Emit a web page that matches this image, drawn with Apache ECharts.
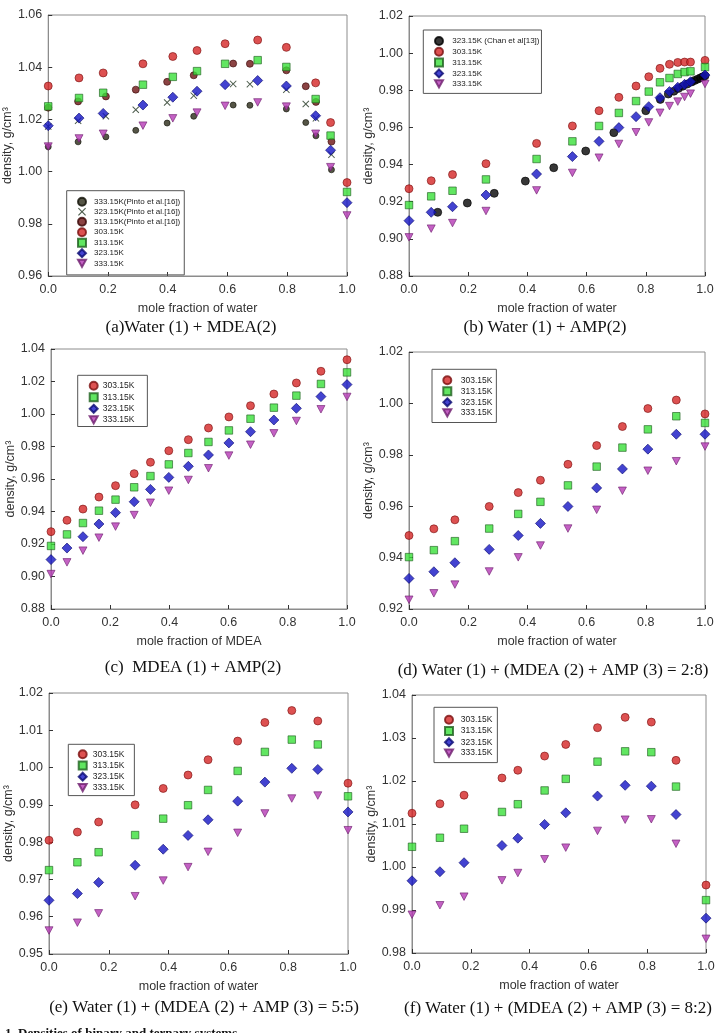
<!DOCTYPE html>
<html>
<head>
<meta charset="utf-8">
<script src="https://cdn.jsdelivr.net/npm/echarts@6/dist/echarts.min.js"></script>
<style>
html, body { margin: 0; padding: 0; background: #fff; }
#chart { width: 718px; height: 1033px; }
</style>
</head>
<body>
<div id="chart"></div>
<script>
// (a) water + MDEA
var xA = [0, 0.103, 0.184, 0.317, 0.417, 0.498, 0.592, 0.701, 0.797, 0.895, 0.945, 1.0];
var a303 = [1.0328, 1.0359, 1.0378, 1.0413, 1.0441, 1.0464, 1.0490, 1.0504, 1.0476, 1.0340, 1.0188, 0.9958];
var a313 = [1.0250, 1.0282, 1.0302, 1.0333, 1.0363, 1.0385, 1.0413, 1.0427, 1.0401, 1.0278, 1.0138, 0.9922];
var a323 = [1.0176, 1.0205, 1.0223, 1.0255, 1.0285, 1.0308, 1.0333, 1.0349, 1.0328, 1.0214, 1.0082, 0.9881];
var a333 = [1.0096, 1.0127, 1.0145, 1.0176, 1.0204, 1.0226, 1.0252, 1.0265, 1.0249, 1.0145, 1.0017, 0.9832];
var xPinto = [0, 0.100, 0.193, 0.293, 0.398, 0.487, 0.619, 0.675, 0.797, 0.862, 0.896, 0.948];
var pinto313 = [1.0245, 1.0269, 1.0288, 1.0314, 1.0344, 1.0369, 1.0414, 1.0413, 1.0388, 1.0327, 1.0267, 1.0115];
var pinto323 = [1.0173, 1.0195, 1.0212, 1.0237, 1.0265, 1.0291, 1.0336, 1.0335, 1.0314, 1.0259, 1.0204, 1.0065];
var pinto333 = [1.0095, 1.0114, 1.0133, 1.0158, 1.0186, 1.0212, 1.0255, 1.0254, 1.0240, 1.0188, 1.0137, 1.0007];

// (b) water + AMP
var xB = [0, 0.075, 0.147, 0.26, 0.431, 0.552, 0.642, 0.709, 0.767, 0.81, 0.848, 0.880, 0.908, 0.931, 0.951, 1.0];
var b303 = [0.9270, 0.9313, 0.9346, 0.9405, 0.9514, 0.9608, 0.9690, 0.9762, 0.9823, 0.9873, 0.9918, 0.9940, 0.9950, 0.9952, 0.9952, 0.9961];
var b313 = [0.9182, 0.9229, 0.9259, 0.9320, 0.9430, 0.9525, 0.9608, 0.9678, 0.9742, 0.9793, 0.9843, 0.9866, 0.9888, 0.9898, 0.9902, 0.9925];
var b323 = [0.9098, 0.9143, 0.9173, 0.9236, 0.9349, 0.9443, 0.9525, 0.9599, 0.9658, 0.9712, 0.9760, 0.9793, 0.9816, 0.9832, 0.9846, 0.9882];
var b333 = [0.9008, 0.9055, 0.9085, 0.9150, 0.9261, 0.9355, 0.9437, 0.9511, 0.9574, 0.9627, 0.9679, 0.9715, 0.9739, 0.9764, 0.9782, 0.9834];
var xChan = [0.097, 0.197, 0.288, 0.393, 0.489, 0.597, 0.692, 0.80, 0.849, 0.876, 0.895, 0.91, 0.925, 0.94, 0.955, 0.965, 0.975, 0.985, 0.993, 1.0];
var chan323 = [0.9143, 0.9193, 0.9245, 0.9311, 0.9383, 0.9473, 0.9572, 0.9690, 0.9751, 0.9780, 0.9795, 0.9810, 0.9822, 0.9834, 0.9845, 0.9853, 0.9860, 0.9867, 0.9873, 0.9878];

// (c) MDEA + AMP
var xC = [0, 0.054, 0.108, 0.162, 0.218, 0.281, 0.336, 0.398, 0.464, 0.532, 0.601, 0.674, 0.753, 0.829, 0.912, 1.0];
var c303 = [0.9276, 0.9346, 0.9415, 0.9489, 0.9559, 0.9633, 0.9703, 0.9774, 0.9842, 0.9914, 0.9982, 1.0051, 1.0123, 1.0191, 1.0263, 1.0334];
var c313 = [0.9188, 0.9259, 0.9329, 0.9405, 0.9473, 0.9549, 0.9618, 0.9690, 0.9760, 0.9828, 0.9899, 0.9971, 1.0039, 1.0113, 1.0185, 1.0256];
var c323 = [0.9104, 0.9175, 0.9245, 0.9323, 0.9393, 0.9460, 0.9536, 0.9610, 0.9678, 0.9748, 0.9822, 0.9891, 0.9963, 1.0035, 1.0107, 1.0181];
var c333 = [0.9015, 0.9087, 0.9159, 0.9239, 0.9307, 0.9378, 0.9454, 0.9528, 0.9594, 0.9666, 0.9744, 0.9811, 0.9881, 0.9957, 1.0029, 1.0105];

// (d) water + (MDEA + AMP = 2:8)
var xD = [0, 0.084, 0.155, 0.271, 0.369, 0.444, 0.537, 0.634, 0.721, 0.807, 0.903, 1.0];
var d303 = [0.9486, 0.9512, 0.9547, 0.9599, 0.9653, 0.9701, 0.9763, 0.9836, 0.9910, 0.9980, 1.0013, 0.9959];
var d313 = [0.9402, 0.9429, 0.9464, 0.9513, 0.9570, 0.9617, 0.9681, 0.9754, 0.9828, 0.9899, 0.9950, 0.9924];
var d323 = [0.9319, 0.9345, 0.9380, 0.9432, 0.9486, 0.9533, 0.9599, 0.9671, 0.9745, 0.9822, 0.9880, 0.9880];
var d333 = [0.9236, 0.9261, 0.9295, 0.9346, 0.9401, 0.9447, 0.9513, 0.9586, 0.9660, 0.9738, 0.9775, 0.9832];

// (e) water + (MDEA + AMP = 5:5)
var xE = [0, 0.095, 0.166, 0.288, 0.382, 0.465, 0.532, 0.631, 0.722, 0.812, 0.899, 1.0];
var e303 = [0.9805, 0.9827, 0.9854, 0.9900, 0.9944, 0.9980, 1.0021, 1.0071, 1.0121, 1.0153, 1.0125, 0.9958];
var e313 = [0.9725, 0.9746, 0.9773, 0.9819, 0.9863, 0.9899, 0.9940, 0.9991, 1.0042, 1.0075, 1.0062, 0.9923];
var e323 = [0.9644, 0.9662, 0.9692, 0.9738, 0.9781, 0.9818, 0.9860, 0.9910, 0.9961, 0.9998, 0.9995, 0.9881];
var e333 = [0.9563, 0.9584, 0.9609, 0.9655, 0.9697, 0.9733, 0.9774, 0.9825, 0.9877, 0.9917, 0.9925, 0.9832];

// (f) water + (MDEA + AMP = 8:2)
var xF = [0, 0.095, 0.177, 0.306, 0.36, 0.451, 0.523, 0.631, 0.725, 0.814, 0.898, 1.0];
var f303 = [1.0125, 1.0147, 1.0167, 1.0207, 1.0225, 1.0258, 1.0285, 1.0324, 1.0348, 1.0337, 1.0248, 0.9958];
var f313 = [1.0047, 1.0068, 1.0089, 1.0128, 1.0146, 1.0178, 1.0205, 1.0245, 1.0269, 1.0267, 1.0187, 0.9923];
var f323 = [0.9968, 0.9989, 1.0010, 1.0050, 1.0067, 1.0099, 1.0126, 1.0165, 1.0190, 1.0188, 1.0122, 0.9881];
var f333 = [0.9889, 0.9911, 0.9931, 0.9969, 0.9986, 1.0018, 1.0045, 1.0084, 1.0110, 1.0111, 1.0054, 0.9833];

// axes
var yMin = [0.96, 0.88, 0.88, 0.92, 0.95, 0.98];
var yMax = [1.06, 1.02, 1.04, 1.02, 1.02, 1.04];
var yStep = [0.02, 0.02, 0.02, 0.02, 0.01, 0.01];
var xNames = ["mole fraction of water", "mole fraction of water", "mole fraction of MDEA",
	"mole fraction of water", "mole fraction of water", "mole fraction of water"];
var captions = ["(a)Water (1) + MDEA(2)", "(b) Water (1) + AMP(2)", "(c)  MDEA (1) + AMP(2)",
	"(d) Water (1) + (MDEA (2) + AMP (3) = 2:8)", "(e) Water (1) + (MDEA (2) + AMP (3) = 5:5)",
	"(f) Water (1) + (MDEA (2) + AMP (3) = 8:2)"];
var tempNames = ["303.15K", "313.15K", "323.15K", "333.15K"];
var pintoNames = ["333.15K(Pinto et al.[16])", "323.15K(Pinto et al.[16])", "313.15K(Pinto et al.[16])"];
var chanName = "323.15K (Chan et al[13])";

var SANS = "'Liberation Sans', Arial, sans-serif";
var SERIF = "'Liberation Serif', 'Times New Roman', serif";
var DOWN_TRI = "path://M0,0L10,0L5,9Z";
var CROSS = "path://M0,1L1,0L5,4L9,0L10,1L6,5L10,9L9,10L5,6L1,10L0,9L4,5Z";

var grids = [
	{left: 46, top: 15, width: 301, height: 261},
	{left: 409, top: 16, width: 296, height: 260},
	{left: 51, top: 349, width: 296, height: 260},
	{left: 409, top: 352, width: 296, height: 257},
	{left: 49, top: 693, width: 299, height: 261},
	{left: 412, top: 695, width: 294, height: 258}
];
var yNameGap = [24, 32, 28.5, 28.5, 28, 30];
var capPos = [[191, 328], [545, 328], [193, 668], [553, 671], [204, 1008], [558, 1009]];

var styles = {
	"303.15K": {symbol: "circle", size: 8, color: "#d42626", border: "#7a1212"},
	"313.15K": {symbol: "rect", size: 7.5, color: "#3ae03a", border: "#1f5f1f"},
	"323.15K": {symbol: "diamond", size: 10, color: "#1414c4", border: "#0a0a70"},
	"333.15K": {symbol: DOWN_TRI, size: [8, 7.5], color: "#b53ab5", border: "#6e1f6e"},
	pinto313: {symbol: "circle", size: 7, color: "#6e1414", border: "#3a0808"},
	pinto323: {symbol: CROSS, size: 7, color: "#1f331f", border: "#1f331f"},
	pinto333: {symbol: "circle", size: 6, color: "#2a2a18", border: "#111108"},
	chan: {symbol: "circle", size: 8, color: "#050505", border: "#000000"}
};

function zip(xs, ys) {
	return xs.map(function (x, i) { return [x, ys[i]]; });
}

function sc(name, idx, xs, ys, key) {
	var st = styles[key || name];
	return {
		type: "scatter",
		name: name,
		xAxisIndex: idx,
		yAxisIndex: idx,
		data: zip(xs, ys),
		symbol: st.symbol,
		symbolSize: st.size,
		clip: false,
		itemStyle: {color: st.color, borderColor: st.border, borderWidth: key === "pinto323" ? 0 : 0.8},
		emphasis: {disabled: true}
	};
}

var series = [
	sc(pintoNames[0], 0, xPinto, pinto333, "pinto333"),
	sc(pintoNames[1], 0, xPinto, pinto323, "pinto323"),
	sc(pintoNames[2], 0, xPinto, pinto313, "pinto313"),
	sc("303.15K", 0, xA, a303), sc("313.15K", 0, xA, a313),
	sc("323.15K", 0, xA, a323), sc("333.15K", 0, xA, a333),

	sc(chanName, 1, xChan, chan323, "chan"),
	sc("303.15K", 1, xB, b303), sc("313.15K", 1, xB, b313),
	sc("323.15K", 1, xB, b323), sc("333.15K", 1, xB, b333),

	sc("303.15K", 2, xC, c303), sc("313.15K", 2, xC, c313),
	sc("323.15K", 2, xC, c323), sc("333.15K", 2, xC, c333),

	sc("303.15K", 3, xD, d303), sc("313.15K", 3, xD, d313),
	sc("323.15K", 3, xD, d323), sc("333.15K", 3, xD, d333),

	sc("303.15K", 4, xE, e303), sc("313.15K", 4, xE, e313),
	sc("323.15K", 4, xE, e323), sc("333.15K", 4, xE, e333),

	sc("303.15K", 5, xF, f303), sc("313.15K", 5, xF, f313),
	sc("323.15K", 5, xF, f323), sc("333.15K", 5, xF, f333)
];

// square icons, text pushed right with its own padding
function legend(names, left, top, textShift, gap, pad, fontSize) {
	return {
		data: names.map(function (n) {
			var st = styles[n];
			return st ? {name: n, icon: st.symbol} : {name: n};
		}),
		orient: "vertical",
		left: left,
		top: top,
		itemWidth: 8,
		itemHeight: 8,
		itemGap: gap,
		padding: pad,
		selectedMode: false,
		borderColor: "#555",
		borderWidth: 1,
		textStyle: {fontFamily: SANS, fontSize: fontSize, color: "#222", lineHeight: 9,
			padding: [0, 0, 0, textShift]}
	};
}

var legends = [
	legend(pintoNames.concat(tempNames), 66.7, 190.7, 3, 0.5, [6, 4, 7, 10.3], 8),
	legend([chanName].concat(tempNames), 423.3, 30, 4.3, 0.8, [6, 2, 5, 10.7], 8),
	legend(tempNames, 77.7, 375.3, 0, 1.5, [5.5, 13, 2, 11], 8.5),
	legend(tempNames, 432, 369.3, 4.4, 1, [6, 4, 5, 10.3], 8.5),
	legend(tempNames, 68.3, 744.3, 1, 1.2, [5, 10, 3.5, 9.4], 8.5),
	legend(tempNames, 434, 707.3, 2.7, 1.2, [7.5, 5, 5, 10], 8.5)
];

var xAxes = grids.map(function (g, i) {
	return {
		gridIndex: i, type: "value", min: 0, max: 1, interval: 0.2,
		name: xNames[i], nameLocation: "middle", nameGap: 26,
		nameTextStyle: {fontFamily: SANS, fontSize: 12.5, color: "#333"},
		axisLine: {lineStyle: {color: "#8c8c8c"}},
		axisTick: {inside: true, length: 4, lineStyle: {color: "#333"}},
		axisLabel: {fontFamily: SANS, fontSize: 12.5, color: "#333", margin: 7,
			formatter: function (v) { return v.toFixed(1); }},
		splitLine: {show: false}
	};
});
var yAxes = grids.map(function (g, i) {
	return {
		gridIndex: i, type: "value", min: yMin[i], max: yMax[i], interval: yStep[i],
		name: "density, g/cm\u00b3", nameLocation: "middle", nameGap: yNameGap[i], nameRotate: 90,
		nameTextStyle: {fontFamily: SANS, fontSize: 12.5, color: "#333"},
		axisLine: {show: true, lineStyle: {color: "#8c8c8c"}},
		axisTick: {show: true, inside: true, length: 4, lineStyle: {color: "#333"}},
		axisLabel: {fontFamily: SANS, fontSize: 12.5, color: "#333", margin: 6,
			formatter: function (v) { return v.toFixed(2); }},
		splitLine: {show: false}
	};
});

var graphics = captions.map(function (c, i) {
	return {
		type: "text", x: capPos[i][0], y: capPos[i][1],
		style: {text: c, font: "17px " + SERIF, fill: "#111", textAlign: "center", textVerticalAlign: "middle"}
	};
});
graphics.push({
	type: "text", x: 5, y: 1027,
	style: {text: "1. Densities of binary and ternary systems", font: "bold 13px " + SERIF, fill: "#111", textVerticalAlign: "top"}
});

var chart = echarts.init(document.getElementById("chart"), null, {renderer: "canvas"});
chart.setOption({
	animation: false,
	backgroundColor: "#fff",
	grid: grids.map(function (g) {
		return {left: g.left, top: g.top, width: g.width, height: g.height,
			show: true, borderColor: "#8c8c8c", borderWidth: 1, backgroundColor: "transparent"};
	}),
	xAxis: xAxes,
	yAxis: yAxes,
	legend: legends,
	series: series,
	graphic: graphics
});
</script>
</body>
</html>
